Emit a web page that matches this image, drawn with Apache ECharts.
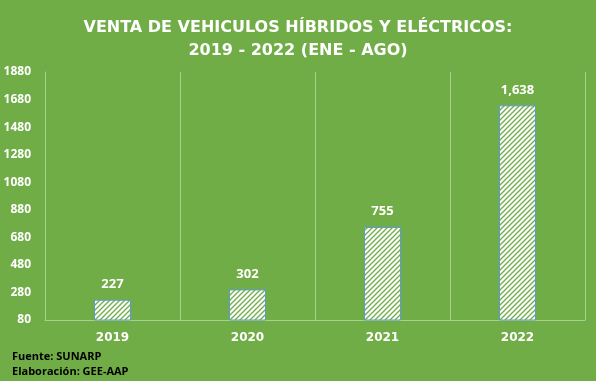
<!DOCTYPE html>
<html><head><meta charset="utf-8">
<script src="https://cdn.jsdelivr.net/npm/echarts@6/dist/echarts.min.js"></script>
<style>html,body{margin:0;padding:0;background:#70AD47;}#c{width:596px;height:381px;}</style>
</head><body><div id="c"></div>
<script>
var categories = ['2019', '2020', '2021', '2022'];
var values = [227, 302, 755, 1638];
var yMin = 80, yMax = 1880, yStep = 200;
var titleLines = ['VENTA DE VEHICULOS HÍBRIDOS Y ELÉCTRICOS:', '2019 - 2022 (ENE - AGO)'];
var footerLines = ['Fuente: SUNARP', 'Elaboración: GEE-AAP'];

var pc = document.createElement('canvas');
pc.width = 5; pc.height = 5;
var g = pc.getContext('2d');
g.fillStyle = '#ffffff'; g.fillRect(0, 0, 5, 5);
g.strokeStyle = '#70AD47'; g.lineWidth = 1.3;
for (var k = -1; k <= 1; k++) {
  g.beginPath(); g.moveTo(-1 + k * 5, 6); g.lineTo(6 + k * 5, -1); g.stroke();
}

var chart = echarts.init(document.getElementById('c'));
chart.setOption({
  backgroundColor: '#70AD47',
  animation: false,
  title: {
    text: titleLines.join('\n'), left: 'center', top: 11,
    textStyle: { color: '#fff', fontFamily: 'DejaVu Sans', fontWeight: 'bold', fontSize: 16, lineHeight: 23 }
  },
  graphic: [
    { type: 'text', left: 12, top: 349, style: { text: footerLines.join('\n'), fill: '#000', font: 'bold 11px "Open Sans"', lineHeight: 15 } }
  ],
  grid: { left: 45, right: 11, top: 72, bottom: 61, containLabel: false },
  xAxis: {
    type: 'category', data: categories,
    axisLine: { lineStyle: { color: '#A9D18E', width: 1 } },
    axisTick: { show: false },
    splitLine: { show: true, lineStyle: { color: '#A9D18E', width: 1 } },
    axisLabel: { color: '#fff', fontWeight: 'bold', fontSize: 12, fontFamily: 'DejaVu Sans', margin: 12 }
  },
  yAxis: {
    type: 'value', min: yMin, max: yMax, interval: yStep,
    axisLine: { show: true, lineStyle: { color: '#A9D18E' } },
    axisTick: { show: false },
    splitLine: { show: false },
    axisLabel: { color: '#fff', fontWeight: 'bold', fontSize: 12, fontFamily: 'Open Sans', margin: 14,
      formatter: function (v) { return String(v); } }
  },
  series: [{
    type: 'bar', data: values, barWidth: 37,
    itemStyle: { color: { image: pc, repeat: 'repeat' }, borderColor: '#5B9BD5', borderWidth: 1 },
    label: {
      show: true, position: 'top', distance: 9, color: '#fff', fontWeight: 'bold', fontSize: 13, fontFamily: 'Open Sans',
      formatter: function (p) { return p.value.toLocaleString('en-US'); }
    }
  }]
});
</script></body></html>
